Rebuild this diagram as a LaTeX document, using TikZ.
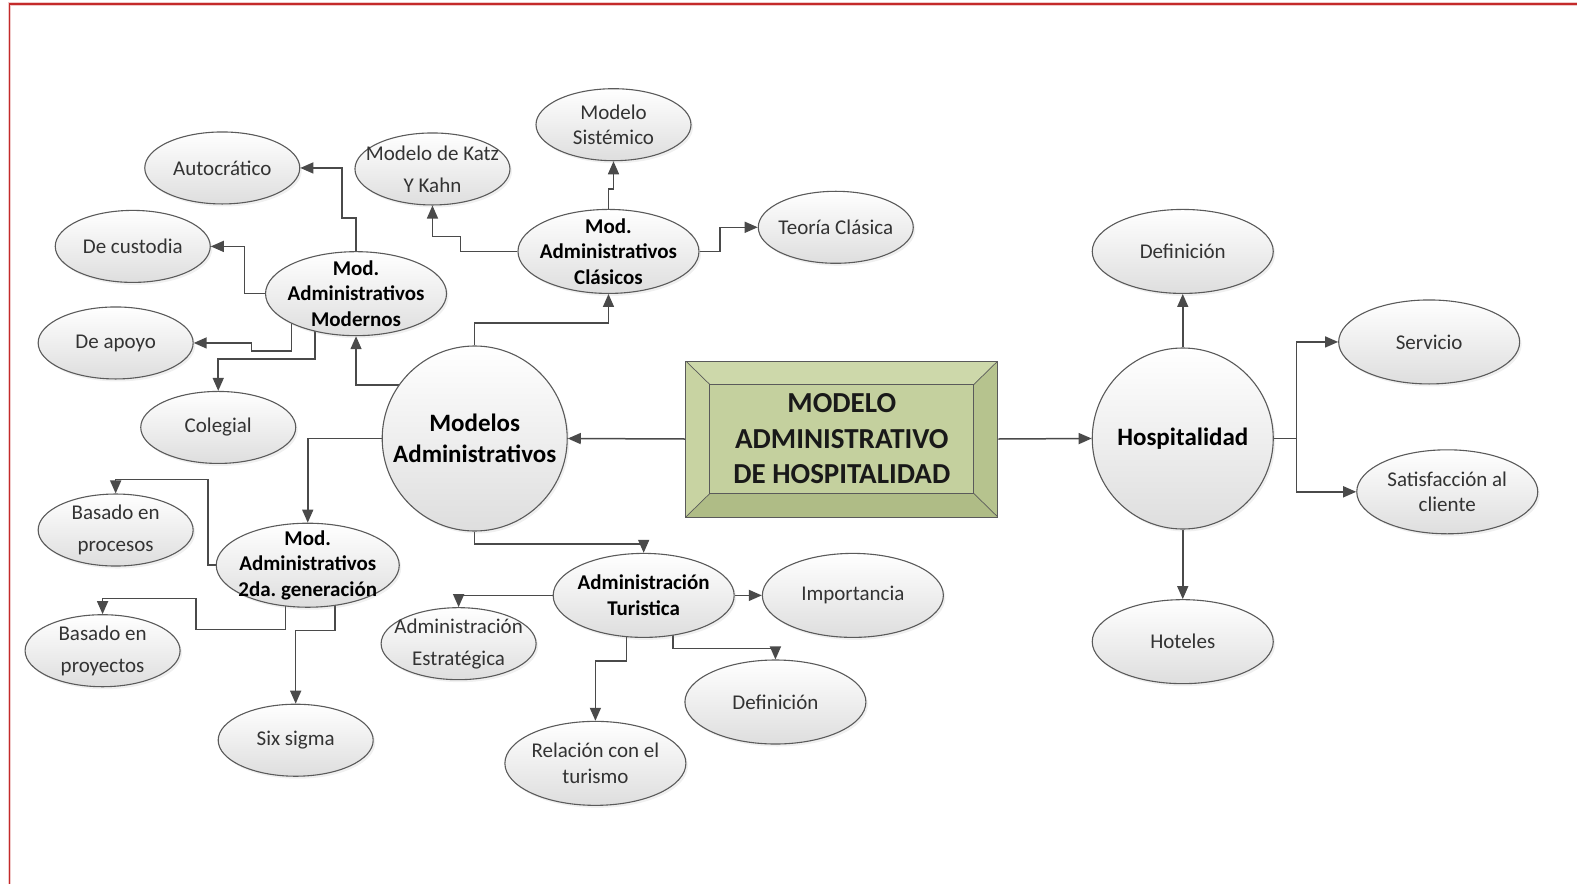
\documentclass[tikz,border=0pt]{standalone}
\usepackage{fontspec}
\setmainfont{Carlito}
\frenchspacing
\usetikzlibrary{shapes.geometric,arrows.meta,backgrounds,shadows,calc}
\definecolor{linec}{HTML}{4A4A4A}
\definecolor{edgec}{HTML}{5A5A5A}
\definecolor{txtc}{HTML}{333333}
\definecolor{framec}{HTML}{C42A2A}
\definecolor{hubmid}{HTML}{C4D09E}
\definecolor{hubtop}{HTML}{CDD8AA}
\definecolor{hubleft}{HTML}{C8D3A2}
\definecolor{hubright}{HTML}{B6C38E}
\definecolor{hubbot}{HTML}{AFBC86}
\begin{document}
\begin{tikzpicture}[x=1.0057pt,y=-1.0057pt,
  bub/.style={ellipse, draw=edgec, line width=1.1pt, top color=white, bottom color=black!13,
    drop shadow={opacity=0.12, shadow xshift=2pt, shadow yshift=-2.5pt},
    inner sep=0pt, minimum width=155pt, minimum height=72pt},
  bigbub/.style={bub, minimum width=181pt, minimum height=84pt},
  roundbub/.style={bub, circle, minimum size=#1},
  txt/.style={text=txtc, align=center, font=\fontsize{21}{25.5}\selectfont},
  txtw/.style={txt, font=\fontsize{21}{32}\selectfont},
  txtb/.style={txt, text=black, font=\bfseries\fontsize{21}{25.5}\selectfont},
  txtbig/.style={txt, text=black, font=\bfseries\fontsize{25}{30.5}\selectfont},
  lin/.style={draw=linec, line width=1.5pt},
  arr/.style={lin, -{Triangle[length=13pt,width=11pt]}},
  hubbox/.style={rectangle, draw=edgec, line width=1pt, fill=hubmid,
    minimum width=312pt, minimum height=156pt, inner sep=0pt, align=center, text=black!90,
    font=\bfseries\fontsize{29}{35.5}\selectfont,
    path picture={
      \coordinate (pNW) at (path picture bounding box.north west);
      \coordinate (pNE) at (path picture bounding box.north east);
      \coordinate (pSE) at (path picture bounding box.south east);
      \coordinate (pSW) at (path picture bounding box.south west);
      \coordinate (qNW) at ($(pNW)+(24pt,-23.5pt)$);
      \coordinate (qNE) at ($(pNE)+(-24pt,-23.5pt)$);
      \coordinate (qSE) at ($(pSE)+(-24pt,23.5pt)$);
      \coordinate (qSW) at ($(pSW)+(24pt,23.5pt)$);
      \fill[hubtop] (pNW) -- (pNE) -- (qNE) -- (qNW) -- cycle;
      \fill[hubright] (pNE) -- (pSE) -- (qSE) -- (qNE) -- cycle;
      \fill[hubbot] (pSE) -- (pSW) -- (qSW) -- (qSE) -- cycle;
      \fill[hubleft] (pSW) -- (pNW) -- (qNW) -- (qSW) -- cycle;
      \draw[edgec, line width=0.9pt] (qNW) rectangle (qSE);
      \draw[edgec, line width=0.7pt] (pNW) -- (qNW) (pNE) -- (qNE) (pSE) -- (qSE) (pSW) -- (qSW);
    }}
]
\useasboundingbox (0,0) rectangle (1568,879);
% frame along the top and left edges
\draw[framec!25, line width=3.5pt] (9.3,879) -- (9.3,3.8) -- (1568,3.8);
\draw[framec, line width=1.4pt] (9.3,879) -- (9.3,3.8) -- (1568,3.8);

% central title
\node[hubbox] (hub) at (837,436.5) {MODELO\\ADMINISTRATIVO\\DE HOSPITALIDAD};

% main branches
\node[roundbub=185pt, label={[txtbig]center:{Modelos\\Administrativos}}] (madm) at (472,436) {};
\node[roundbub=181pt, label={[txtbig]center:{Hospitalidad}}] (hosp) at (1176,436) {};

% classical models
\node[bigbub, label={[txtb]center:{Mod.\\Administrativos\\Clásicos}}] (clas) at (605,250) {};
\node[bub, label={[txtw]center:{Modelo de Katz\\Y Kahn}}] (katz) at (430,168) {};
\node[bub, label={[txt]center:{Modelo\\Sistémico}}] (sist) at (610,124) {};
\node[bub, label={[txt]center:{Teoría Clásica}}] (teoria) at (831,226) {};

% modern models
\node[bigbub, label={[txtb]center:{Mod.\\Administrativos\\Modernos}}] (mod) at (354,292) {};
\node[bub, label={[txt]center:{Autocrático}}] (auto) at (221,167) {};
\node[bub, label={[txt]center:{De custodia}}] (cust) at (132,245) {};
\node[bub, label={[txt]center:{De apoyo}}] (apoyo) at (115,341) {};
\node[bub, label={[txt]center:{Colegial}}] (coleg) at (217,425) {};

% second generation models
\node[bigbub, minimum width=183pt, label={[txtb]center:{Mod.\\Administrativos\\2da. generación}}] (gen2) at (306,562) {};
\node[bub, label={[txtw]center:{Basado en\\procesos}}] (proc) at (115,527) {};
\node[bub, label={[txtw]center:{Basado en\\proyectos}}] (proy) at (102,647) {};
\node[bub, label={[txt]center:{Six sigma}}] (six) at (294,736) {};

% tourism administration
\node[bigbub, label={[txtb]center:{Administración\\Turistica}}] (tur) at (640,592) {};
\node[bigbub, label={[txt]center:{Importancia}}] (imp) at (848,592) {};
\node[bub, label={[txtw]center:{Administración\\Estratégica}}] (estr) at (456,640) {};
\node[bigbub, label={[txt]center:{Definición}}] (deft) at (771,698) {};
\node[bigbub, label={[txt]center:{Relación con el\\turismo}}] (rel) at (592,759) {};

% hospitality
\node[bigbub, label={[txt]center:{Definición}}] (defh) at (1176,250) {};
\node[bigbub, label={[txt]center:{Servicio}}] (serv) at (1421,340) {};
\node[bigbub, label={[txt]center:{Satisfacción al\\cliente}}] (satis) at (1439,489) {};
\node[bigbub, label={[txt]center:{Hoteles}}] (hot) at (1176,638) {};
\coordinate (hbr) at (1289,436);

\begin{pgfonlayer}{background}
\draw[arr] (hub.west) -- (madm.east);
\draw[arr] (hub.east) -- (hosp.west);
\draw[arr] (madm.center |- 0,383) -| (mod.south);
\draw[arr] (madm.north) -- (madm.north |- 0,321) -| (clas.south);
\draw[arr] (madm.west) -| (gen2.north);
\draw[arr] (madm.south) -- (madm.south |- 0,541) -| (tur.north);
\draw[arr] (clas.west) -| (458,235) -| (katz.south);
\draw[arr] (clas.north) -- (clas.north |- 0,188) -| (sist.south);
\draw[arr] (clas.east) -| (716,238) |- (teoria.west);
\draw[arr] (mod.north) |- (340,217) |- (auto.east);
\draw[arr] (mod.west) -| (243,270) |- (cust.east);
\draw[arr] (mod.center -| 290,0) |- (250,349) |- (apoyo.east);
\draw[arr] (mod.center -| 313,0) |- (260,357) -| (coleg.north);
\draw[arr] (gen2.west) -| (207,477) -| (proc.north);
\draw[arr] (gen2.center -| 284,0) |- (195,626) |- (150,595) -| (proy.north);
\draw[arr] (gen2.center -| 333,0) |- (310,627) -| (six.north);
\draw[arr] (tur.west) -| (estr.north);
\draw[arr] (tur.east) -- (imp.west);
\draw[arr] (tur.center -| 623,0) |- (605,657) -| (rel.north);
\draw[arr] (tur.center -| 669,0) |- (700,645) -| (deft.north);
\draw[arr] (hosp.north) -- (defh.south);
\draw[arr] (hosp.south) -- (hot.north);
\draw[lin] (hosp.east) -- (hbr);
\draw[arr] (hbr) |- (serv.west);
\draw[arr] (hbr) |- (satis.west);
\end{pgfonlayer}
\end{tikzpicture}
\end{document}
